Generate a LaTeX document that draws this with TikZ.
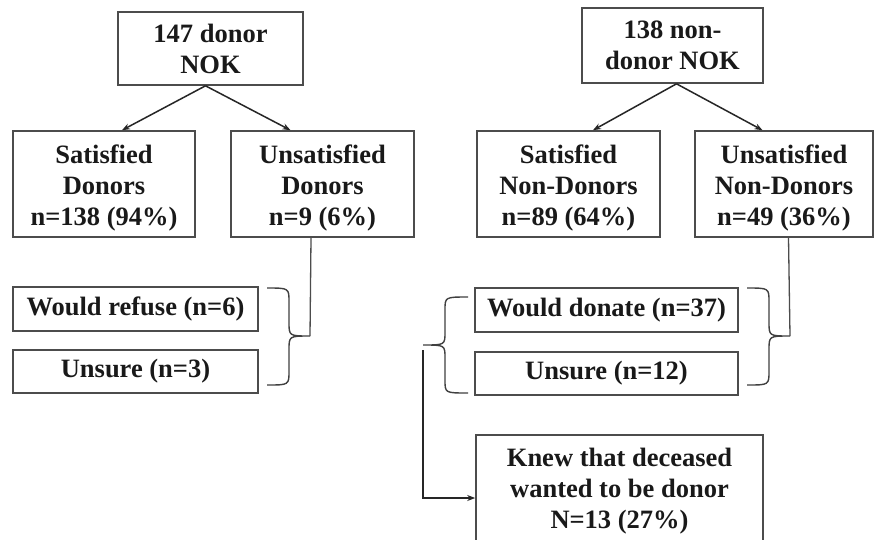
\documentclass[tikz,border=0pt]{standalone}
\usepackage{fontspec}
\setmainfont{Liberation Serif}
\usetikzlibrary{arrows.meta,calc}
\newcommand\dnlines[1]{\raisebox{-4pt}[\height][\depth]{\begin{tabular}{@{}c@{}}#1\end{tabular}}}
\begin{document}
\begin{tikzpicture}[x=1pt,y=-1pt,
  box/.style={draw=black!70,line width=1.6pt,align=center,inner sep=0pt,
    font=\fontsize{26.5}{31}\selectfont\bfseries,text=black!90},
  arr/.style={-{Stealth[length=8pt,width=6pt]},line width=1.5pt,black!85},
  ln/.style={line width=1.3pt,black!70},
  brc/.style={line width=1.4pt,black!75}]
\clip (0,0) rectangle (875,539);
\fill[white] (0,0) rectangle (875,539);
% left tree
\node[box,minimum width=185pt,minimum height=73pt] (A) at (210.5,48.5) {147 donor\\NOK};
\node[box,minimum width=182pt,minimum height=106pt] (B) at (104,184) {\dnlines{Satisfied\\Donors\\n=138 (94\%)}};
\node[box,minimum width=183pt,minimum height=106pt] (C) at (322.5,184) {\dnlines{Unsatisfied\\Donors\\n=9 (6\%)}};
\node[box,minimum width=245pt,minimum height=44pt] (R1) at (135.5,309) {Would refuse (n=6)};
\node[box,minimum width=245pt,minimum height=43pt] (R2) at (135.5,371.5) {Unsure (n=3)};
% right tree
\node[box,minimum width=181pt,minimum height=75pt] (D) at (672.5,45.5) {138 non-\\donor NOK};
\node[box,minimum width=183pt,minimum height=106pt] (E) at (568.5,184) {\dnlines{Satisfied\\Non-Donors\\n=89 (64\%)}};
\node[box,minimum width=178pt,minimum height=106pt] (F) at (784,184) {\dnlines{Unsatisfied\\Non-Donors\\n=49 (36\%)}};
\node[box,minimum width=263pt,minimum height=44pt] (S1) at (606.5,310) {Would donate (n=37)};
\node[box,minimum width=263pt,minimum height=43pt] (S2) at (606.5,373.5) {Unsure (n=12)};
\node[box,minimum width=287pt,minimum height=112pt] (G) at (619.5,491) {Knew that deceased\\wanted to be donor\\N=13 (27\%)};
% arrows
\draw[arr] ([xshift=-5pt]A.south) -- ([xshift=18pt]B.north);
\draw[arr] ([xshift=-5pt]A.south) -- ([xshift=-32pt]C.north);
\draw[arr] ([xshift=4pt]D.south) -- ([xshift=24.5pt]E.north);
\draw[arr] ([xshift=4pt]D.south) -- ([xshift=-21.5pt]F.north);
% braces
\coordinate (t1) at (310,336);
\coordinate (t2) at (790,336);
\coordinate (t3) at (423,345);
\draw[brc] (267,288) .. controls (289,288) .. (289,302) -- (289,322)
  .. controls (289,336) .. (t1) .. controls (289,336) .. (289,350)
  -- (289,371) .. controls (289,385) .. (267,385);
\draw[brc] (747,288) .. controls (769,288) .. (769,302) -- (769,322)
  .. controls (769,336) .. (t2) .. controls (769,336) .. (769,350)
  -- (769,371) .. controls (769,385) .. (747,385);
\draw[brc] (468,297) .. controls (445,297) .. (445,310) -- (445,332)
  .. controls (445,345) .. (t3) .. controls (445,345) .. (445,358)
  -- (445,380) .. controls (445,393) .. (468,393);
% connectors
\draw[ln] ([xshift=-11.5pt]C.south) -- (t1);
\draw[ln] ([xshift=4.5pt]F.south) -- (t2);
\coordinate (k) at (423,498);
\draw[arr,line width=1.3pt] ([yshift=-5pt]t3) -- (k) -- (k -| G.west);
\end{tikzpicture}
\end{document}
